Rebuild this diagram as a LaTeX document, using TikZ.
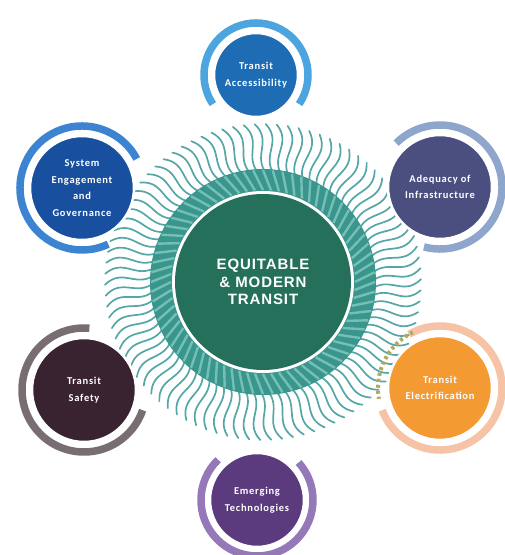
\documentclass[tikz,border=0pt]{standalone}
\usepackage{fontspec}
\setmainfont{Carlito}
\newfontfamily\hubfont{Liberation Sans}[LetterSpace=6]
\newfontfamily\satfont{Carlito}[LetterSpace=7]
\usetikzlibrary{calc, positioning}

\definecolor{hubgreen}{HTML}{25705A}
\definecolor{hubteal}{HTML}{3A968C}
\definecolor{hubstripe}{HTML}{74C0B6}
\definecolor{wavecol}{HTML}{55A6A6}
\definecolor{accessblue}{HTML}{1E6CB4}
\definecolor{accessarc}{HTML}{4CA5DE}
\definecolor{engageblue}{HTML}{184F9E}
\definecolor{engagearc}{HTML}{3C84D2}
\definecolor{infraslate}{HTML}{4B4F80}
\definecolor{infraarc}{HTML}{8FA6CC}
\definecolor{electorange}{HTML}{F49A33}
\definecolor{electarc}{HTML}{F7C3A6}
\definecolor{electdash}{HTML}{B4A85E}
\definecolor{safetyplum}{HTML}{3A2330}
\definecolor{safetyarc}{HTML}{786D73}
\definecolor{emergepurple}{HTML}{5C3A7E}
\definecolor{emergearc}{HTML}{9478B8}

\tikzset{
  sat/.style={circle, draw=white, line width=2.5pt, text=white, align=center,
              inner sep=0pt, font=\satfont\bfseries\fontsize{10.5}{16.5}\selectfont},
  ringarc/.style={line width=7.5pt},
  waveline/.style={wavecol, line width=1.7pt, line cap=round},
}

\begin{document}
\begin{tikzpicture}[x=1pt, y=1pt]

        \useasboundingbox (0,0) rectangle (505,555);
        \coordinate (hub) at (263,273);

        % swirling strokes round the hub
        \foreach \a in {0,4,...,356}
          \draw[waveline] ($(hub)+(\a:108pt)$) .. controls ($(hub)+({\a+7}:127pt)$) and ($(hub)+({\a-2}:141pt)$) .. ($(hub)+({\a+5}:158pt)$);

        % striped teal ring
        \fill[hubteal] (hub) circle [radius=113pt];
        \foreach \a in {0,5,...,355}
          \draw[hubstripe, line width=2.4pt] (hub) ++(\a:92pt) -- ($(hub)+({\a+5}:112pt)$);
        \fill[white] (hub) circle [radius=91pt];

        \node[circle, fill=hubgreen, minimum size=176pt, inner sep=0pt, text=white, align=center,
              font=\hubfont\bfseries\fontsize{15}{17.5}\selectfont] (core) at (hub) {EQUITABLE\\\& MODERN\\TRANSIT};

        % satellites, each with its open ring
        \node[sat, fill=accessblue, minimum size=84pt] (access) at (256,480) {Transit\\Accessibility};
        \draw[ringarc, accessarc] (access.center) ++(-34:52pt) arc[start angle=-34, end angle=214, radius=52pt];

        \node[sat, fill=engageblue, minimum size=104pt] (engage) at (82,367) {System\\Engagement\\and\\Governance};
        \draw[ringarc, engagearc] (engage.center) ++(28:62pt) arc[start angle=28, end angle=295, radius=62pt];

        \node[sat, fill=infraslate, minimum size=104pt] (infra) at (440,368) {Adequacy of\\Infrastructure};
        \draw[ringarc, infraarc] (infra.center) ++(-105:62pt) arc[start angle=-105, end angle=135, radius=62pt];

        \node[sat, fill=electorange, minimum size=104pt] (elect) at (440,167) {Transit\\Electrification};
        \draw[ringarc, electarc] (elect.center) ++(-159:62pt) arc[start angle=-159, end angle=120, radius=62pt];
        \draw[ringarc, electdash, dashed, line width=4pt] (elect.center) ++(116:62pt) arc[start angle=116, end angle=190, radius=62pt];

        \node[sat, fill=safetyplum, minimum size=104pt] (safety) at (84,165) {Transit\\Safety};
        \draw[ringarc, safetyarc] (safety.center) ++(85:62pt) arc[start angle=85, end angle=341, radius=62pt];

        \node[sat, fill=emergepurple, minimum size=94pt] (emerge) at (257,55) {Emerging\\Technologies};
        \draw[ringarc, emergearc] (emerge.center) ++(134:56pt) arc[start angle=134, end angle=402, radius=56pt];

\end{tikzpicture}
\end{document}
